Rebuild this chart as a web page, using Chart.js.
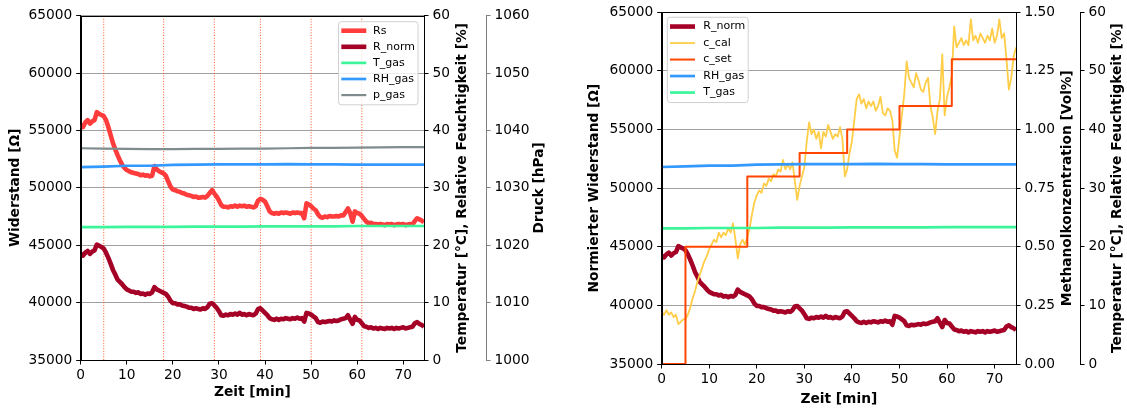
<!DOCTYPE html>
<html>
<head>
<meta charset="utf-8">
<script src="https://cdn.jsdelivr.net/npm/chart.js@4.4.1/dist/chart.umd.min.js"></script>
<style>
    html, body { margin: 0; padding: 0; background: #fff; }
    #wrap { position: relative; width: 1127px; height: 410px; }
    #wrap canvas { position: absolute; top: 0; }
</style>
</head>
<body>
<div id="wrap">
    <canvas id="sensorChart" width="565" height="410" style="left:0"></canvas>
    <canvas id="calChart" width="562" height="410" style="left:565px"></canvas>
</div>
<script>
// Messzeitpunkte [min], alle 0.5 min
const sampleTimes = [
    0, 0.5, 1, 1.5, 2, 2.5, 3, 3.5, 4, 4.5, 5, 5.5, 6, 6.5, 7, 7.5, 8, 8.5, 9, 9.5,
    10, 10.5, 11, 11.5, 12, 12.5, 13, 13.5, 14, 14.5, 15, 15.5, 16, 16.5, 17, 17.5, 18, 18.5, 19, 19.5,
    20, 20.5, 21, 21.5, 22, 22.5, 23, 23.5, 24, 24.5, 25, 25.5, 26, 26.5, 27, 27.5, 28, 28.5, 29, 29.5,
    30, 30.5, 31, 31.5, 32, 32.5, 33, 33.5, 34, 34.5, 35, 35.5, 36, 36.5, 37, 37.5, 38, 38.5, 39, 39.5,
    40, 40.5, 41, 41.5, 42, 42.5, 43, 43.5, 44, 44.5, 45, 45.5, 46, 46.5, 47, 47.5, 48, 48.5, 49, 49.5,
    50, 50.5, 51, 51.5, 52, 52.5, 53, 53.5, 54, 54.5, 55, 55.5, 56, 56.5, 57, 57.5, 58, 58.5, 59, 59.5,
    60, 60.5, 61, 61.5, 62, 62.5, 63, 63.5, 64, 64.5, 65, 65.5, 66, 66.5, 67, 67.5, 68, 68.5, 69, 69.5,
    70, 70.5, 71, 71.5, 72, 72.5, 73, 73.5, 74, 74.5
];

// Sensorwiderstand Rs [Ohm]
const rsValues = [
    55500, 55300, 55700, 55900, 55600, 55800, 55900, 56600, 56450, 56350, 56250, 55900, 55300, 54600, 53900, 53350, 52850, 52400, 52000, 51750,
    51550, 51450, 51350, 51300, 51250, 51200, 51100, 51150, 51050, 51100, 51000, 51050, 51900, 51600, 51450, 51350, 51250, 51050, 50550, 50100,
    49850, 49800, 49700, 49650, 49550, 49500, 49400, 49350, 49300, 49200, 49250, 49150, 49150, 49200, 49150, 49300, 49550, 49800, 49500, 49250,
    48900, 48500, 48350, 48350, 48300, 48400, 48350, 48450, 48350, 48450, 48400, 48450, 48350, 48400, 48350, 48300, 48400, 48900, 49050, 48950,
    48800, 48400, 47950, 47800, 47750, 47800, 47750, 47850, 47800, 47850, 47800, 47750, 47850, 47800, 47850, 47800, 47800, 47350, 48650, 48550,
    48400, 48200, 48050, 47700, 47450, 47400, 47500, 47450, 47550, 47500, 47500, 47550, 47500, 47600, 47600, 47900, 48200, 47800, 47050, 47950,
    47800, 47750, 47550, 47300, 47050, 46900, 46950, 46850, 46850, 46800, 46850, 46800, 46750, 46850, 46800, 46850, 46750, 46800, 46850, 46800,
    46850, 46750, 46800, 46850, 46800, 47100, 47350, 47250, 47150, 47000
];

// normierter Widerstand R_norm [Ohm]
const rNormValues = [
    44250, 44100, 44350, 44500, 44250, 44450, 44550, 45050, 44950, 44850, 44700, 44350, 43900, 43400, 42850, 42450, 42000, 41800, 41600, 41350,
    41150, 41050, 40950, 40950, 40850, 40900, 40750, 40800, 40700, 40800, 40750, 40900, 41350, 41150, 41050, 40950, 40850, 40750, 40500, 40150,
    39950, 39950, 39850, 39850, 39750, 39700, 39650, 39550, 39550, 39450, 39500, 39450, 39400, 39500, 39450, 39600, 39900, 39950, 39750, 39550,
    39250, 38900, 38850, 38950, 38900, 39000, 38950, 39050, 38950, 39100, 38950, 39000, 38900, 39000, 38950, 38900, 39050, 39450, 39500, 39300,
    39100, 38900, 38650, 38550, 38500, 38600, 38500, 38600, 38550, 38650, 38600, 38550, 38650, 38600, 38700, 38600, 38650, 38350, 39100, 39050,
    38950, 38800, 38650, 38300, 38250, 38350, 38300, 38350, 38400, 38350, 38450, 38400, 38450, 38550, 38600, 38650, 38900, 38500, 38150, 38750,
    38500, 38450, 38200, 37950, 37900, 37800, 37850, 37750, 37800, 37700, 37800, 37750, 37700, 37800, 37750, 37800, 37700, 37800, 37750, 37800,
    37850, 37750, 37800, 37850, 37900, 38200, 38300, 38150, 38050, 37900
];

// berechnete Methanolkonzentration c_cal [Vol%]
const cCalValues = [
    0.22, 0.21, 0.23, 0.21, 0.22, 0.20, 0.21, 0.17, 0.18, 0.19, 0.19, 0.21, 0.24, 0.28, 0.31, 0.35, 0.38, 0.41, 0.44, 0.46,
    0.49, 0.51, 0.53, 0.52, 0.56, 0.54, 0.56, 0.55, 0.58, 0.56, 0.60, 0.53, 0.45, 0.51, 0.53, 0.51, 0.54, 0.58, 0.64, 0.69,
    0.72, 0.74, 0.73, 0.77, 0.76, 0.79, 0.78, 0.81, 0.80, 0.83, 0.82, 0.87, 0.83, 0.85, 0.83, 0.86, 0.78, 0.70, 0.76, 0.80,
    0.84, 0.95, 1.03, 0.98, 1.00, 0.96, 0.99, 0.92, 0.99, 0.97, 1.02, 0.99, 0.96, 0.98, 0.97, 1.01, 0.96, 0.80, 0.83, 0.90,
    0.95, 1.04, 1.13, 1.15, 1.11, 1.13, 1.09, 1.12, 1.10, 1.12, 1.08, 1.10, 1.14, 1.07, 1.06, 1.09, 1.08, 1.04, 0.91, 0.88,
    0.97, 1.06, 1.15, 1.29, 1.22, 1.20, 1.18, 1.24, 1.21, 1.17, 1.16, 1.20, 1.22, 1.10, 1.05, 0.98, 1.08, 1.13, 1.32, 1.06,
    1.14, 1.18, 1.23, 1.44, 1.35, 1.37, 1.39, 1.36, 1.38, 1.36, 1.47, 1.38, 1.40, 1.37, 1.41, 1.39, 1.37, 1.40, 1.38, 1.43,
    1.37, 1.40, 1.47, 1.39, 1.41, 1.30, 1.17, 1.22, 1.31, 1.35
];

// Umgebungsgrößen, alle 5 min
const envTimes = [0, 5, 10, 15, 20, 25, 30, 35, 40, 45, 50, 55, 60, 65, 70, 74.5];
const tGasValues = [23.15, 23.15, 23.2, 23.2, 23.2, 23.25, 23.25, 23.25, 23.3, 23.3, 23.3, 23.3, 23.35, 23.35, 23.35, 23.35];
const rhGasValues = [33.6, 33.7, 33.85, 33.85, 34.0, 34.05, 34.1, 34.1, 34.1, 34.15, 34.1, 34.1, 34.05, 34.05, 34.05, 34.05];
const pGasValues = [1036.9, 1036.85, 1036.8, 1036.75, 1036.75, 1036.8, 1036.8, 1036.85, 1036.85, 1036.9, 1036.95, 1036.95, 1037.0, 1037.05, 1037.1, 1037.1];

// Sollkonzentration c_set (Stufen)
const switchTimes = [5, 18, 29, 39, 50, 61];
const cSetTimes = [0, 5, 18, 29, 39, 50, 61, 74.5];
const cSetValues = [0, 0.5, 0.8, 0.9, 1.0, 1.1, 1.3, 1.3];

// Achsenbereiche
const timeRange = [0, 74.5];
const resRange = [35000, 65000];
const climateRange = [0, 60];
const pressureRange = [1000, 1060];
const concRange = [0, 1.5];

const colors = {
    rs: '#ff3c3c',
    rNorm: '#a50026',
    tGas: '#3cf59b',
    rhGas: '#3399ff',
    pGas: '#7f8c8d',
    cCal: '#ffcd47',
    cSet: '#ff4500',
    marker: '#ff5722',
    grid: '#a0a0a0'
};

const FONT = '"DejaVu Sans", sans-serif';
Chart.defaults.font.family = FONT;
Chart.defaults.font.size = 13.75;
Chart.defaults.color = '#000';

function series(label, xs, ys, color, width, axis, order) {
    return {
        label: label,
        data: xs.map(function (x, i) { return { x: x, y: ys[i] }; }),
        borderColor: color,
        borderWidth: width,
        yAxisID: axis,
        order: order,
        pointRadius: 0,
        borderJoinStyle: 'round',
        fill: false,
        tension: 0
    };
}

function fixWidth(w) { return function (scale) { scale.width = w; }; }
function fixHeight(h) { return function (scale) { scale.height = h; }; }
function plain(v) { return String(v); }

function timeAxis(height) {
    return {
        type: 'linear', position: 'bottom', min: timeRange[0], max: timeRange[1],
        ticks: { stepSize: 10, includeBounds: false, padding: 3 },
        grid: { drawOnChartArea: false, tickLength: 4.5, tickColor: '#000' },
        border: { color: '#000' },
        title: { display: true, text: 'Zeit [min]', font: { weight: 'bold' }, padding: 0 },
        afterFit: fixHeight(height)
    };
}

function sideAxis(range, step, width, weight, color, fmt) {
    return {
        type: 'linear', position: 'right', min: range[0], max: range[1], weight: weight,
        ticks: { stepSize: step, padding: 4, callback: fmt || plain },
        grid: { drawOnChartArea: false, tickLength: 4.5, tickColor: color },
        border: { color: color },
        afterFit: fixWidth(width)
    };
}

// Rahmen, rechte Achsentitel und Legende
const decorPlugin = {
    id: 'decor',
    afterDatasetsDraw(chart, args, opts) {
        var ctx = chart.ctx, a = chart.chartArea;
        ctx.save();
        var l = Math.round(a.left) + 0.5, r = Math.round(a.right) + 0.5;
        var t = Math.round(a.top) + 0.5, b = Math.round(a.bottom) + 0.5;
        ctx.strokeStyle = '#000';
        ctx.lineWidth = 1;
        ctx.strokeRect(l, t, r - l, b - t);

        ctx.fillStyle = '#000';
        ctx.font = 'bold 13.75px ' + FONT;
        ctx.textAlign = 'center';
        ctx.textBaseline = 'middle';
        (opts.sideTitles || []).forEach(function (st) {
            var s = chart.scales[st.axis];
            ctx.save();
            ctx.translate(s.left + st.dx, (a.top + a.bottom) / 2);
            ctx.rotate(-Math.PI / 2);
            ctx.fillText(st.text, 0, 0);
            ctx.restore();
        });

        var L = opts.legend;
        var items = chart.data.datasets.filter(function (d) { return d.label; });
        ctx.font = '11px ' + FONT;
        var tw = Math.max.apply(null, items.map(function (d) { return ctx.measureText(d.label).width; }));
        var w = L.textX + tw + L.padR;
        var h = L.rowFirst + L.rowGap * (items.length - 1) + L.padB;
        var x0 = L.side === 'right' ? a.right - L.margin - w : a.left + L.margin;
        var y0 = a.top + L.marginTop;
        var rad = 3;
        ctx.beginPath();
        ctx.moveTo(x0 + rad, y0);
        ctx.arcTo(x0 + w, y0, x0 + w, y0 + h, rad);
        ctx.arcTo(x0 + w, y0 + h, x0, y0 + h, rad);
        ctx.arcTo(x0, y0 + h, x0, y0, rad);
        ctx.arcTo(x0, y0, x0 + w, y0, rad);
        ctx.closePath();
        ctx.fillStyle = 'rgba(255,255,255,0.8)';
        ctx.fill();
        ctx.strokeStyle = '#d0d0d0';
        ctx.lineWidth = 1;
        ctx.stroke();

        ctx.textAlign = 'left';
        items.forEach(function (d, i) {
            var y = y0 + L.rowFirst + i * L.rowGap;
            ctx.strokeStyle = d.borderColor;
            ctx.lineWidth = d.borderWidth;
            ctx.beginPath();
            ctx.moveTo(x0 + L.sampleX, y);
            ctx.lineTo(x0 + L.sampleX + 25, y);
            ctx.stroke();
            ctx.fillStyle = '#000';
            ctx.fillText(d.label, x0 + L.textX, y);
        });
        ctx.restore();
    }
};

var markerSets = switchTimes.map(function (t) {
    return {
        label: '',
        data: [{ x: t, y: resRange[0] }, { x: t, y: resRange[1] }],
        borderColor: colors.marker,
        borderWidth: 1,
        borderDash: [1, 1.7],
        yAxisID: 'y',
        order: 10,
        pointRadius: 0
    };
});

new Chart(document.getElementById('sensorChart'), {
    type: 'line',
    data: {
        datasets: [
            series('Rs', sampleTimes, rsValues, colors.rs, 4.6, 'y', 6),
            series('R_norm', sampleTimes, rNormValues, colors.rNorm, 4.6, 'y', 5),
            series('T_gas', envTimes, tGasValues, colors.tGas, 2.7, 'yClimate', 3),
            series('RH_gas', envTimes, rhGasValues, colors.rhGas, 2.7, 'yClimate', 2),
            series('p_gas', envTimes, pGasValues, colors.pGas, 2.2, 'yPressure', 1)
        ].concat(markerSets)
    },
    options: {
        responsive: false,
        animation: false,
        events: [],
        layout: { padding: { top: 15.7, left: 0, right: 0, bottom: 9 } },
        plugins: {
            legend: { display: false },
            tooltip: { enabled: false },
            decor: {
                sideTitles: [
                    { axis: 'yClimate', dx: 38.5, text: 'Temperatur [°C], Relative Feuchtigkeit [%]' },
                    { axis: 'yPressure', dx: 53.5, text: 'Druck [hPa]' }
                ],
                legend: { side: 'right', margin: 6, marginTop: 6, rowFirst: 9, rowGap: 16.1, padB: 9.7, sampleX: 2.8, textX: 34.6, padR: 3 }
            }
        },
        scales: {
            x: timeAxis(41),
            y: {
                type: 'linear', position: 'left', min: resRange[0], max: resRange[1],
                ticks: { stepSize: 5000, padding: 4, callback: plain },
                grid: { color: colors.grid, tickColor: '#000', tickLength: 4.5 },
                border: { color: '#000' },
                title: { display: true, text: 'Widerstand [Ω]', font: { weight: 'bold' }, padding: { top: 7.5, bottom: 0 } },
                afterFit: fixWidth(80.7)
            },
            yClimate: sideAxis(climateRange, 10, 62, 0, '#000'),
            yPressure: sideAxis(pressureRange, 10, 79, 1, '#808080')
        }
    },
    plugins: [decorPlugin]
});

new Chart(document.getElementById('calChart'), {
    type: 'line',
    data: {
        datasets: [
            series('R_norm', sampleTimes, rNormValues, colors.rNorm, 4.6, 'y', 6),
            series('c_cal', sampleTimes, cCalValues, colors.cCal, 1.8, 'yConc', 4),
            Object.assign(series('c_set', cSetTimes, cSetValues, colors.cSet, 2, 'yConc', 3), { stepped: true }),
            series('RH_gas', envTimes, rhGasValues, colors.rhGas, 2.7, 'yClimate', 2),
            series('T_gas', envTimes, tGasValues, colors.tGas, 2.7, 'yClimate', 1)
        ]
    },
    options: {
        responsive: false,
        animation: false,
        events: [],
        layout: { padding: { top: 10.7, left: 0, right: 0, bottom: 2.5 } },
        plugins: {
            legend: { display: false },
            tooltip: { enabled: false },
            decor: {
                sideTitles: [
                    { axis: 'yConc', dx: 51, text: 'Methanolkonzentration [Vol%]' },
                    { axis: 'yClimate', dx: 37, text: 'Temperatur [°C], Relative Feuchtigkeit [%]' }
                ],
                legend: { side: 'left', margin: 5.6, marginTop: 5, rowFirst: 9.3, rowGap: 16.5, padB: 10, sampleX: 2.7, textX: 36, padR: 3 }
            }
        },
        scales: {
            x: timeAxis(43.5),
            y: {
                type: 'linear', position: 'left', min: resRange[0], max: resRange[1],
                ticks: { stepSize: 5000, padding: 4, callback: plain },
                grid: { color: colors.grid, tickColor: '#000', tickLength: 4.5 },
                border: { color: '#000' },
                title: { display: true, text: 'Normierter Widerstand [Ω]', font: { weight: 'bold' }, padding: { top: 21.6, bottom: 0 } },
                afterFit: fixWidth(96.7)
            },
            yConc: sideAxis(concRange, 0.25, 64, 0, '#000', function (v) { return v.toFixed(2); }),
            yClimate: sideAxis(climateRange, 10, 47, 1, '#000')
        }
    },
    plugins: [decorPlugin]
});
</script>
</body>
</html>
